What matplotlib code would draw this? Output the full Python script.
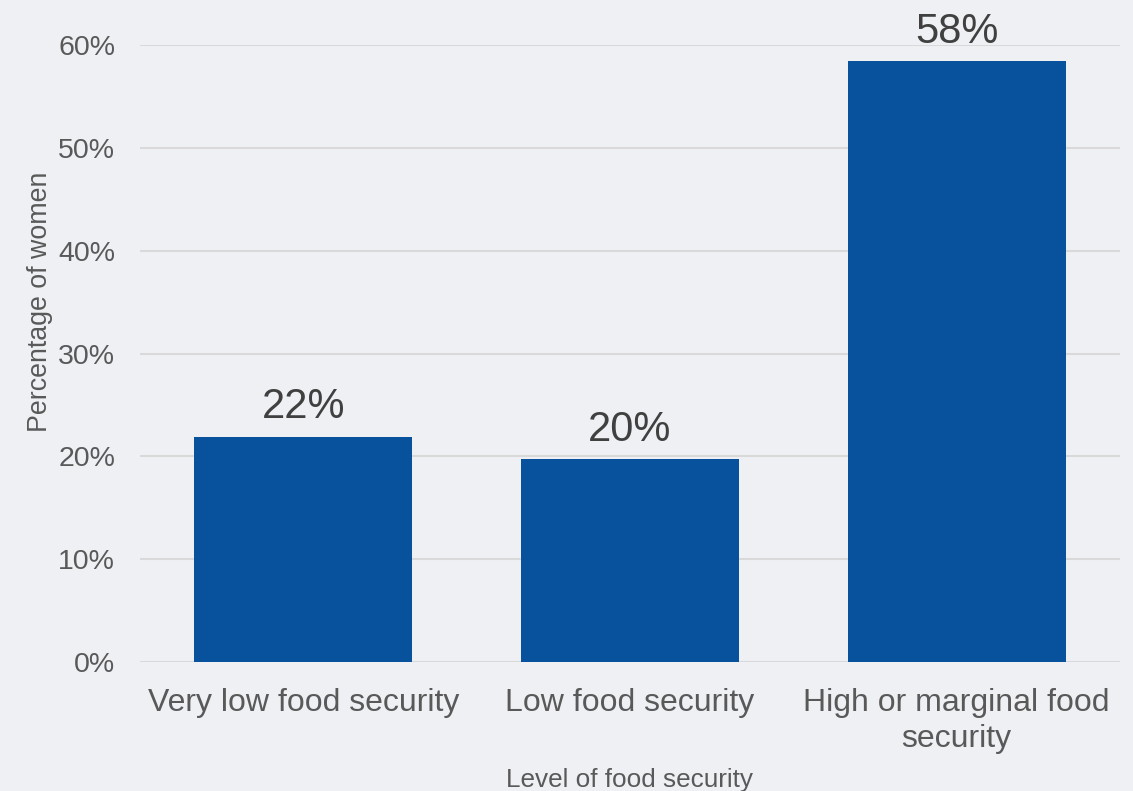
import matplotlib
matplotlib.use("Agg")
import matplotlib.pyplot as plt
from matplotlib.ticker import FuncFormatter

categories = ["Very low food security", "Low food security", "High or marginal food\nsecurity"]
values = [21.9, 19.7, 58.4]
labels = ["22%", "20%", "58%"]
yticks = [0, 10, 20, 30, 40, 50, 60]

plt.rcParams['font.family'] = ['Liberation Sans', 'DejaVu Sans']
bg = '#EFF0F4'
fig = plt.figure(figsize=(11.33, 7.91), dpi=100, facecolor=bg)
ax = fig.add_axes([140/1133, 1-662/791, (1120-140)/1133, (662-45)/791], facecolor=bg)

x = list(range(len(categories)))
ax.bar(x, values, width=0.667, color='#08519C', zorder=3)
for xi, v, lab in zip(x, values, labels):
    ax.annotate(lab, (xi, v), xytext=(0, 7), textcoords='offset points',
                ha='center', va='bottom', fontsize=30, color='#404040')

ax.set_xlim(-0.5, len(categories) - 0.5)
ax.set_ylim(0, 60)
ax.set_yticks(yticks)
ax.yaxis.set_major_formatter(FuncFormatter(lambda v, p: f"{v:.0f}%"))
ax.set_xticks(x)
ax.set_xticklabels(categories, fontsize=23, color='#595959', linespacing=1.25)
ax.tick_params(axis='y', labelsize=20.5, colors='#595959', length=0, pad=18)
ax.tick_params(axis='x', length=0, pad=19)
ax.grid(axis='y', color='#D9D9D9', linewidth=1.5, zorder=0)
ax.set_axisbelow(True)
for s in ax.spines.values():
    s.set_visible(False)

ax.set_ylabel("Percentage of women", fontsize=19.3, color='#595959')
ax.set_xlabel("Level of food security", fontsize=18.8, color='#595959', labelpad=10)
ax.yaxis.set_label_coords(-87/980, (662-302)/617)

fig.savefig("out.png", dpi=100, facecolor=bg)
